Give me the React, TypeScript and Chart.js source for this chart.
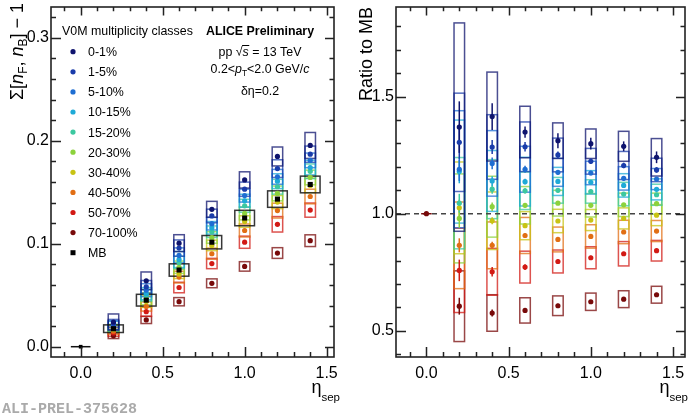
import React, { useEffect, useRef } from "react";
import { Chart, registerables } from "chart.js";

Chart.register(...registerables);

// ---------------- DATA ----------------
const etaSep = [0.2, 0.4, 0.6, 0.8, 1.0, 1.2, 1.4];
const classLabels = ["0-1%", "1-5%", "5-10%", "10-15%", "15-20%", "20-30%", "30-40%", "40-50%", "50-70%", "70-100%"];
const classColors = ["#0f146e", "#1a3caa", "#1e6ed2", "#1eaad7", "#3cc8a0", "#8cd23c", "#c8c314", "#e16e14", "#d21914", "#780a0a"];

// Left panel: Sigma[nF, nB] - 1
const sigma0to1 = [0.024, 0.064, 0.1006, 0.1335, 0.162, 0.1848, 0.1955];
const sigma1to5 = [0.0228, 0.0581, 0.0958, 0.127, 0.153, 0.173, 0.187];
const sigma5to10 = [0.0208, 0.0549, 0.0887, 0.1195, 0.1468, 0.165, 0.181];
const sigma10to15 = [0.0207, 0.0515, 0.0847, 0.1155, 0.1418, 0.1608, 0.174];
const sigma15to20 = [0.0183, 0.05, 0.0818, 0.1117, 0.1369, 0.1554, 0.1704];
const sigma20to30 = [0.0172, 0.0466, 0.0772, 0.1061, 0.1295, 0.1489, 0.1644];
const sigma30to40 = [0.0179, 0.0438, 0.0707, 0.0984, 0.1216, 0.1405, 0.1567];
const sigma40to50 = [0.0151, 0.0391, 0.0676, 0.0903, 0.1129, 0.1322, 0.1459];
const sigma50to70 = [0.0133, 0.034, 0.0575, 0.0808, 0.1015, 0.1189, 0.1327];
const sigma70to100 = [0.0106, 0.026, 0.0437, 0.0616, 0.078, 0.091, 0.103];
const sigmaMB = [0.0175, 0.0452, 0.0745, 0.1015, 0.125, 0.1434, 0.1576];

// Left panel systematic half-heights
const sigmaSys0to1 = [0.0078, 0.0086, 0.0082, 0.0077, 0.0079, 0.0092, 0.0126];
const sigmaSys1to5 = [0.0037, 0.0062, 0.0079, 0.0066, 0.0069, 0.0086, 0.0079];
const sigmaSys5to10 = [0.0044, 0.0063, 0.0073, 0.0061, 0.0063, 0.0072, 0.0071];
const sigmaSys10to15 = [0.0039, 0.0059, 0.0078, 0.0061, 0.0063, 0.0072, 0.0071];
const sigmaSys15to20 = [0.0034, 0.0057, 0.006, 0.0056, 0.0063, 0.0072, 0.0071];
const sigmaSys20to30 = [0.0033, 0.0059, 0.006, 0.0056, 0.0063, 0.0072, 0.0071];
const sigmaSys30to40 = [0.0034, 0.0056, 0.0045, 0.0051, 0.0056, 0.0064, 0.0071];
const sigmaSys40to50 = [0.0032, 0.0045, 0.0057, 0.0054, 0.0063, 0.0072, 0.0071];
const sigmaSys50to70 = [0.0032, 0.0045, 0.0051, 0.005, 0.0059, 0.0075, 0.0069];
const sigmaSys70to100 = [0.0027, 0.0035, 0.004, 0.0043, 0.0046, 0.0052, 0.0057];
const sigmaSysMB = [0.0037, 0.0057, 0.006, 0.0065, 0.0075, 0.008, 0.0081];

// Reference point at eta_sep = 0
const zeroEta = [0];
const zeroSigma = [0];
const zeroRatio = [1];

// Right panel: ratio to MB
const ratio0to1 = [1.37, 1.415, 1.349, 1.312, 1.299, 1.288, 1.241];
const ratio1to5 = [1.305, 1.285, 1.286, 1.251, 1.224, 1.206, 1.187];
const ratio5to10 = [1.19, 1.215, 1.19, 1.177, 1.174, 1.151, 1.148];
const ratio10to15 = [1.18, 1.14, 1.137, 1.138, 1.134, 1.121, 1.104];
const ratio15to20 = [1.045, 1.105, 1.098, 1.1, 1.095, 1.084, 1.081];
const ratio20to30 = [0.98, 1.03, 1.036, 1.045, 1.036, 1.038, 1.043];
const ratio30to40 = [1.025, 0.97, 0.949, 0.969, 0.973, 0.98, 0.994];
const ratio40to50 = [0.865, 0.865, 0.907, 0.89, 0.903, 0.922, 0.926];
const ratio50to70 = [0.758, 0.752, 0.772, 0.796, 0.812, 0.829, 0.842];
const ratio70to100 = [0.605, 0.576, 0.587, 0.607, 0.624, 0.635, 0.654];

// Right panel systematic half-heights
const ratioSys0to1 = [0.445, 0.19, 0.11, 0.076, 0.063, 0.064, 0.08];
const ratioSys1to5 = [0.21, 0.138, 0.106, 0.072, 0.055, 0.06, 0.05];
const ratioSys5to10 = [0.25, 0.14, 0.098, 0.06, 0.05, 0.05, 0.045];
const ratioSys10to15 = [0.22, 0.13, 0.104, 0.06, 0.05, 0.05, 0.045];
const ratioSys15to20 = [0.195, 0.126, 0.08, 0.055, 0.05, 0.05, 0.045];
const ratioSys20to30 = [0.19, 0.13, 0.08, 0.055, 0.05, 0.05, 0.045];
const ratioSys30to40 = [0.196, 0.123, 0.06, 0.05, 0.045, 0.045, 0.045];
const ratioSys40to50 = [0.185, 0.1, 0.077, 0.053, 0.05, 0.05, 0.045];
const ratioSys50to70 = [0.18, 0.1, 0.068, 0.049, 0.047, 0.052, 0.044];
const ratioSys70to100 = [0.151, 0.078, 0.054, 0.042, 0.037, 0.036, 0.036];

// Right panel statistical half-heights
const ratioStat0to1 = [0.11, 0.057, 0.024, 0.032, 0.025, 0.021, 0.025];
const ratioStat1to5 = [0.07, 0.03, 0.02, 0.015, 0.012, 0.012, 0.012];
const ratioStat5to10 = [0.05, 0.025, 0.015, 0.01, 0.01, 0.01, 0.01];
const ratioStat10to15 = [0.05, 0.02, 0.012, 0.01, 0.008, 0.008, 0.008];
const ratioStat15to20 = [0.04, 0.02, 0.012, 0.01, 0.008, 0.008, 0.008];
const ratioStat20to30 = [0.04, 0.018, 0.01, 0.008, 0.008, 0.008, 0.008];
const ratioStat30to40 = [0.035, 0.015, 0.01, 0.008, 0.007, 0.007, 0.007];
const ratioStat40to50 = [0.03, 0.015, 0.01, 0.008, 0.007, 0.007, 0.007];
const ratioStat50to70 = [0.046, 0.02, 0.012, 0.008, 0.008, 0.008, 0.008];
const ratioStat70to100 = [0.036, 0.015, 0.01, 0.008, 0.008, 0.008, 0.008];

const sigmaByClass = [sigma0to1, sigma1to5, sigma5to10, sigma10to15, sigma15to20, sigma20to30, sigma30to40, sigma40to50, sigma50to70, sigma70to100];
const sigmaSysByClass = [sigmaSys0to1, sigmaSys1to5, sigmaSys5to10, sigmaSys10to15, sigmaSys15to20, sigmaSys20to30, sigmaSys30to40, sigmaSys40to50, sigmaSys50to70, sigmaSys70to100];
const ratioByClass = [ratio0to1, ratio1to5, ratio5to10, ratio10to15, ratio15to20, ratio20to30, ratio30to40, ratio40to50, ratio50to70, ratio70to100];
const ratioSysByClass = [ratioSys0to1, ratioSys1to5, ratioSys5to10, ratioSys10to15, ratioSys15to20, ratioSys20to30, ratioSys30to40, ratioSys40to50, ratioSys50to70, ratioSys70to100];
const ratioStatByClass = [ratioStat0to1, ratioStat1to5, ratioStat5to10, ratioStat10to15, ratioStat15to20, ratioStat20to30, ratioStat30to40, ratioStat40to50, ratioStat50to70, ratioStat70to100];

// ---------------- STYLE ----------------
const FAM = '"Liberation Sans", Arial, Helvetica, sans-serif';
const f = (size: number, style = "") => `${style} ${size}px ${FAM}`.trim();
const FRAME = "#222";
const BOX_HW = 0.032;
const MB_BOX_HW = 0.06;

type Piece = { t: string; font: string; dy?: number; over?: boolean };

function drawRich(ctx: CanvasRenderingContext2D, pieces: Piece[], x: number, y: number, align: "left" | "center" | "right", color = "#000") {
  let w = 0;
  for (const p of pieces) { ctx.font = p.font; w += ctx.measureText(p.t).width; }
  let cx = align === "left" ? x : align === "center" ? x - w / 2 : x - w;
  ctx.textAlign = "left";
  ctx.textBaseline = "alphabetic";
  ctx.fillStyle = color;
  ctx.strokeStyle = color;
  for (const p of pieces) {
    ctx.font = p.font;
    const pw = ctx.measureText(p.t).width;
    ctx.fillText(p.t, cx, y + (p.dy || 0));
    if (p.over) {
      ctx.lineWidth = 1;
      ctx.beginPath();
      ctx.moveTo(cx - 0.5, y - 10.5);
      ctx.lineTo(cx + pw + 0.5, y - 10.5);
      ctx.stroke();
    }
    cx += pw;
  }
}

function drawFrameAndTicks(chart: any, xMajor: number, xMinor: number, yMajor: number, yMinor: number) {
  const ctx: CanvasRenderingContext2D = chart.ctx;
  const { left, right, top, bottom } = chart.chartArea;
  const xs = chart.scales.x;
  const ys = chart.scales.y;
  ctx.save();
  ctx.strokeStyle = FRAME;
  ctx.lineWidth = 1.5;
  ctx.beginPath();
  const isMajor = (v: number, m: number) => Math.abs(v / m - Math.round(v / m)) < 1e-6;
  for (let k = Math.ceil(xs.min / xMinor - 1e-9); k * xMinor <= xs.max + 1e-9; k++) {
    const v = k * xMinor;
    const px = Math.round(xs.getPixelForValue(v)) + 0.5;
    const len = isMajor(v, xMajor) ? 10 : 5;
    ctx.moveTo(px, bottom); ctx.lineTo(px, bottom - len);
    ctx.moveTo(px, top); ctx.lineTo(px, top + len * 0.85);
  }
  for (let k = Math.ceil(ys.min / yMinor - 1e-9); k * yMinor <= ys.max + 1e-9; k++) {
    const v = k * yMinor;
    const py = Math.round(ys.getPixelForValue(v)) + 0.5;
    const len = isMajor(v, yMajor) ? 10 : 5;
    ctx.moveTo(left, py); ctx.lineTo(left + len, py);
    ctx.moveTo(right, py); ctx.lineTo(right - len * 0.9, py);
  }
  ctx.stroke();
  ctx.lineWidth = 1.6;
  ctx.strokeRect(left, top, right - left, bottom - top);
  ctx.restore();
}

function drawBox(ctx: CanvasRenderingContext2D, xs: any, ys: any, x: number, y: number, hw: number, hh: number) {
  const x1 = xs.getPixelForValue(x - hw);
  const x2 = xs.getPixelForValue(x + hw);
  const y1 = ys.getPixelForValue(y + hh);
  const y2 = ys.getPixelForValue(y - hh);
  ctx.strokeRect(x1, y1, x2 - x1, y2 - y1);
}

function hexA(hex: string, a: number) {
  const r = parseInt(hex.slice(1, 3), 16), g = parseInt(hex.slice(3, 5), 16), b = parseInt(hex.slice(5, 7), 16);
  return `rgba(${r},${g},${b},${a})`;
}

const leftPlugin = {
  id: "leftDecor",
  beforeDatasetsDraw(chart: any) {
    const ctx: CanvasRenderingContext2D = chart.ctx;
    const xs = chart.scales.x, ys = chart.scales.y;
    ctx.save();
    ctx.lineWidth = 1.5;
    for (let c = classLabels.length - 1; c >= 0; c--) {
      ctx.strokeStyle = hexA(classColors[c], 0.75);
      etaSep.forEach((x, i) => drawBox(ctx, xs, ys, x, sigmaByClass[c][i], BOX_HW, sigmaSysByClass[c][i]));
    }
    ctx.strokeStyle = "rgba(20,20,20,0.85)";
    etaSep.forEach((x, i) => drawBox(ctx, xs, ys, x, sigmaMB[i], MB_BOX_HW, sigmaSysMB[i]));
    // reference point width bar
    ctx.strokeStyle = "#111";
    zeroEta.forEach((x, i) => {
      const y = ys.getPixelForValue(zeroSigma[i]);
      ctx.beginPath();
      ctx.moveTo(xs.getPixelForValue(x - MB_BOX_HW), y);
      ctx.lineTo(xs.getPixelForValue(x + MB_BOX_HW), y);
      ctx.stroke();
    });
    ctx.restore();
  },
  afterDraw(chart: any) {
    const ctx: CanvasRenderingContext2D = chart.ctx;
    drawFrameAndTicks(chart, 0.5, 0.1, 0.1, 0.02);
    ctx.save();
    // legend
    drawRich(ctx, [{ t: "V0M multiplicity classes", font: f(12.4) }], 62, 35, "left");
    const items = [...classLabels, "MB"];
    items.forEach((lab, i) => {
      const yc = 51.7 + 20.1 * i;
      if (i < classLabels.length) {
        ctx.fillStyle = classColors[i];
        ctx.beginPath();
        ctx.arc(73, yc, 2.6, 0, Math.PI * 2);
        ctx.fill();
      } else {
        ctx.fillStyle = "#000";
        ctx.fillRect(70.5, yc - 2.5, 5, 5);
      }
      drawRich(ctx, [{ t: lab, font: f(12.4) }], 88, yc + 4.4, "left");
    });
    // info text
    const cx = 260;
    drawRich(ctx, [{ t: "ALICE Preliminary", font: f(12.4, "bold") }], cx, 35, "center");
    drawRich(ctx, [
      { t: "pp ", font: f(12.4) },
      { t: "\u221A", font: f(12.4) },
      { t: "s", font: f(12.4, "italic"), over: true },
      { t: " = 13 TeV", font: f(12.4) },
    ], cx, 56, "center");
    drawRich(ctx, [
      { t: "0.2<", font: f(12.4) },
      { t: "p", font: f(12.4, "italic") },
      { t: "T", font: f(8.5), dy: 3 },
      { t: "<2.0 GeV/", font: f(12.4) },
      { t: "c", font: f(12.4, "italic") },
    ], cx, 72.5, "center");
    drawRich(ctx, [{ t: "\u03B4\u03B7=0.2", font: f(12.4) }], cx, 95, "center");
    // axis titles
    ctx.save();
    ctx.translate(22.5, 3);
    ctx.rotate(-Math.PI / 2);
    drawRich(ctx, [
      { t: "\u03A3[", font: f(18) },
      { t: "n", font: f(18, "italic") },
      { t: "F", font: f(12), dy: 4 },
      { t: ", ", font: f(18) },
      { t: "n", font: f(18, "italic") },
      { t: "B", font: f(12), dy: 4 },
      { t: "] \u2212 1", font: f(18) },
    ], 0, 0, "right");
    ctx.restore();
    drawRich(ctx, [{ t: "\u03B7", font: f(18) }, { t: "sep", font: f(11.5), dy: 8 }], 340, 393, "right");
    // watermark
    drawRich(ctx, [{ t: "ALI-PREL-375628", font: `bold 15px "Liberation Mono", "Courier New", monospace` }], 2, 413, "left", "#aaaaaa");
    ctx.restore();
  },
};

const rightPlugin = {
  id: "rightDecor",
  beforeDatasetsDraw(chart: any) {
    const ctx: CanvasRenderingContext2D = chart.ctx;
    const xs = chart.scales.x, ys = chart.scales.y;
    const { left, right } = chart.chartArea;
    ctx.save();
    ctx.lineWidth = 1.5;
    for (let c = classLabels.length - 1; c >= 0; c--) {
      ctx.strokeStyle = hexA(classColors[c], 0.75);
      etaSep.forEach((x, i) => drawBox(ctx, xs, ys, x, ratioByClass[c][i], BOX_HW, ratioSysByClass[c][i]));
    }
    // dashed unity line
    ctx.strokeStyle = "#444";
    ctx.setLineDash([5, 4]);
    ctx.beginPath();
    const y1 = ys.getPixelForValue(1.0);
    ctx.moveTo(left, y1); ctx.lineTo(right, y1);
    ctx.stroke();
    ctx.setLineDash([]);
    // stat error bars
    for (let c = classLabels.length - 1; c >= 0; c--) {
      ctx.strokeStyle = classColors[c];
      etaSep.forEach((x, i) => {
        const px = xs.getPixelForValue(x);
        ctx.beginPath();
        ctx.moveTo(px, ys.getPixelForValue(ratioByClass[c][i] + ratioStatByClass[c][i]));
        ctx.lineTo(px, ys.getPixelForValue(ratioByClass[c][i] - ratioStatByClass[c][i]));
        ctx.stroke();
      });
    }
    // reference point bar
    ctx.strokeStyle = classColors[9];
    zeroEta.forEach((x, i) => {
      const y = ys.getPixelForValue(zeroRatio[i]);
      ctx.beginPath();
      ctx.moveTo(xs.getPixelForValue(x - BOX_HW), y);
      ctx.lineTo(xs.getPixelForValue(x + BOX_HW), y);
      ctx.stroke();
    });
    ctx.restore();
  },
  afterDraw(chart: any) {
    const ctx: CanvasRenderingContext2D = chart.ctx;
    drawFrameAndTicks(chart, 0.5, 0.1, 0.5, 0.1);
    ctx.save();
    ctx.translate(27, 7);
    ctx.rotate(-Math.PI / 2);
    drawRich(ctx, [{ t: "Ratio to MB", font: f(18) }], 0, 0, "right");
    ctx.restore();
    drawRich(ctx, [{ t: "\u03B7", font: f(18) }, { t: "sep", font: f(11.5), dy: 8 }], 343, 393, "right");
  },
};

function makeScales(xMin: number, xMax: number, yMin: number, yMax: number, yStep: number) {
  const tickFont = { family: FAM, size: 16 };
  return {
    x: {
      type: "linear" as const,
      min: xMin,
      max: xMax,
      grid: { display: false, drawTicks: false },
      border: { display: false },
      ticks: {
        stepSize: 0.5,
        includeBounds: false,
        autoSkip: false,
        maxRotation: 0,
        padding: 7,
        color: "#000",
        font: tickFont,
        callback: (v: any) => Number(v).toFixed(1),
      },
      afterFit: (s: any) => { s.height = 57; s.paddingLeft = 0; s.paddingRight = 0; },
    },
    y: {
      type: "linear" as const,
      min: yMin,
      max: yMax,
      grid: { display: false, drawTicks: false },
      border: { display: false },
      ticks: {
        stepSize: yStep,
        includeBounds: false,
        autoSkip: false,
        padding: 2,
        color: "#000",
        font: tickFont,
        callback: (v: any) => Number(v).toFixed(1),
      },
      afterFit: (s: any) => { s.width = 51; s.paddingTop = 0; s.paddingBottom = 0; },
    },
  };
}

function baseOptions(padRight: number, scales: any) {
  return {
    responsive: false,
    animation: false as const,
    devicePixelRatio: 1,
    events: [] as any[],
    layout: { padding: { top: 7, right: padRight, left: 0, bottom: 0 } },
    plugins: { legend: { display: false }, tooltip: { enabled: false }, title: { display: false } },
    scales,
  };
}

export default function App() {
  const leftRef = useRef<HTMLCanvasElement>(null);
  const rightRef = useRef<HTMLCanvasElement>(null);

  useEffect(() => {
    const leftDatasets: any[] = [
      {
        label: "MB",
        data: etaSep.map((x, i) => ({ x, y: sigmaMB[i] })),
        backgroundColor: "#000",
        borderColor: "#000",
        borderWidth: 0,
        pointStyle: "rect",
        pointRadius: 3.6,
      },
      {
        label: "MB ref",
        data: zeroEta.map((x, i) => ({ x, y: zeroSigma[i] })),
        backgroundColor: "#000",
        borderColor: "#000",
        borderWidth: 0,
        pointStyle: "rect",
        pointRadius: 2.6,
      },
      ...classLabels.map((lab, c) => ({
        label: lab,
        data: etaSep.map((x, i) => ({ x, y: sigmaByClass[c][i] })),
        backgroundColor: classColors[c],
        borderColor: classColors[c],
        borderWidth: 0,
        pointStyle: "circle",
        pointRadius: 2.6,
      })),
    ];
    const rightDatasets: any[] = [
      ...classLabels.map((lab, c) => ({
        label: lab,
        data: etaSep.map((x, i) => ({ x, y: ratioByClass[c][i] })),
        backgroundColor: classColors[c],
        borderColor: classColors[c],
        borderWidth: 0,
        pointStyle: "circle",
        pointRadius: 2.6,
      })),
      {
        label: "ref",
        data: zeroEta.map((x, i) => ({ x, y: zeroRatio[i] })),
        backgroundColor: classColors[9],
        borderColor: classColors[9],
        borderWidth: 0,
        pointStyle: "circle",
        pointRadius: 2.6,
      },
    ];

    const left = new Chart(leftRef.current as HTMLCanvasElement, {
      type: "scatter",
      data: { datasets: leftDatasets },
      options: baseOptions(11, makeScales(-0.181, 1.545, -0.01, 0.33, 0.1)) as any,
      plugins: [leftPlugin],
    });
    const right = new Chart(rightRef.current as HTMLCanvasElement, {
      type: "scatter",
      data: { datasets: rightDatasets },
      options: baseOptions(2, makeScales(-0.185, 1.573, 0.388, 1.883, 0.5)) as any,
      plugins: [rightPlugin],
    });
    return () => {
      left.destroy();
      right.destroy();
    };
  }, []);

  return (
    <div style={{ position: "fixed", left: 0, top: 0, width: 689, height: 414, background: "#fff" }}>
      <canvas ref={leftRef} width={345} height={414} style={{ position: "absolute", left: 0, top: 0, width: 345, height: 414 }} />
      <canvas ref={rightRef} width={344} height={414} style={{ position: "absolute", left: 345, top: 0, width: 344, height: 414 }} />
    </div>
  );
}
